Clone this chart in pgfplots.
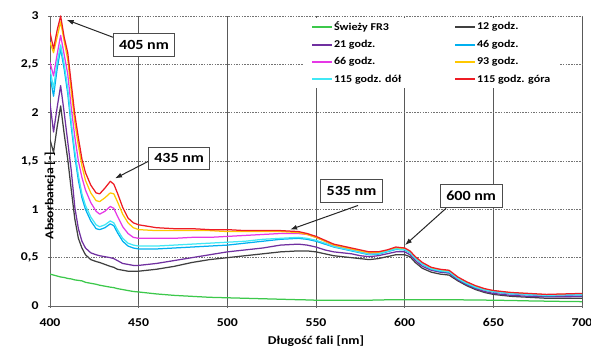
\documentclass[border=0pt]{standalone}
\usepackage{pgfplots}
\pgfplotsset{compat=1.18}
\usepackage{pgfplotstable}
\usepackage{fontspec}
\setmainfont{Carlito}[FakeStretch=1.15]
\usetikzlibrary{arrows.meta}
\definecolor{cfr}{HTML}{3CC84B}
\definecolor{c12}{HTML}{404040}
\definecolor{c21}{HTML}{7030A0}
\definecolor{c46}{HTML}{00B0F0}
\definecolor{c66}{HTML}{E638E6}
\definecolor{c93}{HTML}{FFC800}
\definecolor{cdol}{HTML}{40E8F5}
\definecolor{cgora}{HTML}{EE1C24}
\pgfplotstableread{
lam fr3 h12 h21 h46 h66 h93 dol gora
400 0.33 1.72 2.10 2.38 2.52 2.73 2.45 2.83
402 0.32 1.59 1.80 2.17 2.38 2.62 2.25 2.66
404 0.31 1.85 2.05 2.45 2.60 2.78 2.52 2.85
406 0.30 2.07 2.28 2.66 2.80 2.94 2.70 3.00
408 0.295 1.78 2.00 2.45 2.60 2.74 2.50 2.78
410 0.285 1.52 1.70 2.20 2.40 2.55 2.25 2.62
412 0.28 1.20 1.40 1.85 2.05 2.22 1.90 2.30
414 0.27 0.90 1.02 1.55 1.75 1.90 1.60 1.98
416 0.265 0.70 0.80 1.30 1.50 1.66 1.35 1.74
418 0.26 0.60 0.67 1.12 1.33 1.45 1.16 1.52
420 0.245 0.53 0.60 1.00 1.20 1.30 1.04 1.38
423 0.235 0.48 0.55 0.88 1.07 1.17 0.92 1.25
426 0.225 0.46 0.53 0.80 0.98 1.09 0.84 1.17
428 0.215 0.45 0.52 0.79 0.95 1.08 0.82 1.16
431 0.205 0.43 0.51 0.81 0.98 1.12 0.84 1.22
434 0.195 0.41 0.50 0.85 1.03 1.17 0.88 1.29
436 0.19 0.40 0.49 0.83 1.01 1.16 0.86 1.26
438 0.18 0.38 0.47 0.76 0.93 1.08 0.79 1.17
441 0.17 0.37 0.44 0.67 0.82 0.95 0.70 1.02
444 0.16 0.36 0.43 0.62 0.75 0.86 0.65 0.91
447 0.15 0.36 0.42 0.60 0.71 0.81 0.63 0.86
450 0.145 0.36 0.42 0.59 0.70 0.79 0.62 0.84
460 0.125 0.38 0.44 0.59 0.70 0.78 0.62 0.81
470 0.11 0.41 0.47 0.60 0.70 0.78 0.63 0.80
480 0.10 0.45 0.50 0.61 0.71 0.78 0.64 0.80
490 0.09 0.48 0.53 0.62 0.71 0.78 0.65 0.79
500 0.085 0.50 0.56 0.63 0.72 0.77 0.66 0.79
510 0.08 0.52 0.58 0.65 0.73 0.77 0.67 0.78
520 0.075 0.54 0.60 0.67 0.74 0.77 0.69 0.78
530 0.07 0.56 0.63 0.69 0.75 0.77 0.70 0.78
540 0.065 0.57 0.64 0.70 0.75 0.76 0.71 0.77
545 0.063 0.57 0.63 0.69 0.74 0.74 0.70 0.75
550 0.06 0.56 0.61 0.67 0.71 0.71 0.68 0.72
555 0.06 0.54 0.58 0.64 0.67 0.67 0.65 0.68
560 0.06 0.52 0.56 0.61 0.62 0.63 0.615 0.64
565 0.06 0.51 0.55 0.59 0.60 0.61 0.595 0.62
570 0.06 0.50 0.54 0.57 0.58 0.59 0.575 0.60
575 0.06 0.49 0.52 0.55 0.56 0.57 0.555 0.58
580 0.06 0.48 0.51 0.53 0.54 0.55 0.535 0.56
585 0.062 0.49 0.52 0.535 0.545 0.55 0.54 0.56
590 0.064 0.51 0.54 0.56 0.57 0.57 0.565 0.58
595 0.065 0.53 0.56 0.585 0.595 0.60 0.59 0.61
600 0.065 0.53 0.56 0.58 0.59 0.59 0.585 0.60
603 0.065 0.51 0.53 0.55 0.56 0.56 0.555 0.57
606 0.065 0.45 0.47 0.49 0.50 0.50 0.495 0.51
610 0.065 0.39 0.41 0.43 0.44 0.44 0.435 0.45
615 0.065 0.35 0.37 0.38 0.39 0.39 0.385 0.40
620 0.065 0.33 0.35 0.36 0.37 0.37 0.365 0.38
625 0.065 0.32 0.34 0.35 0.36 0.36 0.355 0.37
630 0.064 0.26 0.27 0.28 0.29 0.29 0.285 0.30
635 0.063 0.21 0.22 0.23 0.24 0.24 0.235 0.25
640 0.062 0.17 0.18 0.19 0.20 0.20 0.195 0.21
645 0.061 0.14 0.15 0.165 0.17 0.17 0.168 0.18
650 0.06 0.12 0.13 0.145 0.15 0.155 0.15 0.16
660 0.057 0.10 0.11 0.125 0.13 0.135 0.13 0.14
670 0.053 0.09 0.10 0.115 0.12 0.125 0.12 0.13
680 0.05 0.08 0.095 0.105 0.11 0.115 0.11 0.12
690 0.047 0.08 0.095 0.11 0.115 0.12 0.115 0.125
700 0.045 0.08 0.10 0.115 0.12 0.125 0.12 0.13
}\spectra
\begin{document}
\begin{tikzpicture}
\useasboundingbox (-50bp,-41bp) rectangle (541bp,306bp);
\begin{axis}[
  width=532bp, height=290bp, scale only axis,
  xmin=400, xmax=700, ymin=0, ymax=3,
  xtick={400,450,...,700}, ytick={0,0.5,...,3},
  axis lines=left, axis line style={-, draw=black!60, line width=0.9bp},
  tick align=center, major tick length=4bp,
  tick style={draw=black!60, line width=0.8bp},
  xmajorgrids, ymajorgrids,
  x grid style={draw=black!65, line width=0.8bp},
  y grid style={draw=black!55, line width=0.8bp, dash pattern=on 1.5bp off 1.2bp},
  /pgf/number format/assume math mode=true,
  /pgf/number format/use comma,
  ticklabel style={font=\bfseries\fontsize{12}{14}\selectfont},
  xticklabel style={yshift=-7bp},
  yticklabel style={xshift=-6bp},
  xlabel={Długość fali [nm]},
  ylabel={Absorbancja [-]},
  xlabel style={font=\bfseries\fontsize{12}{14}\selectfont, at={(axis description cs:0.5,0)}, anchor=north, yshift=-29.5bp, inner sep=0pt},
  ylabel style={font=\bfseries\fontsize{12}{14}\selectfont, at={(axis description cs:0,0.517)}, anchor=center, xshift=-39.5bp, inner sep=0pt},
  legend columns=2,
  legend cell align=left,
  legend style={at={(rel axis cs:0.4756,0.994)}, anchor=north west, draw=none, fill=white,
    font=\bfseries\fontsize{10.5}{12}\selectfont, inner xsep=8bp, inner ysep=3bp,
    row sep=6.3bp,
    nodes={inner xsep=1bp, inner ysep=1bp},
    /tikz/column 2/.style={column sep=52bp}},
  legend image code/.code={\draw[#1, line width=1.8bp, line cap=butt] (0bp,0bp) -- (20bp,0bp);},
  every axis plot/.append style={line width=1.25bp, line join=round},
]
\addplot[cfr] table[x=lam, y=fr3] {\spectra};
\addlegendentry{Świeży FR3}
\addplot[c12] table[x=lam, y=h12] {\spectra};
\addlegendentry{12 godz.}
\addplot[c21] table[x=lam, y=h21] {\spectra};
\addlegendentry{21 godz.}
\addplot[c46] table[x=lam, y=h46] {\spectra};
\addlegendentry{46 godz.}
\addplot[c66] table[x=lam, y=h66] {\spectra};
\addlegendentry{66 godz.}
\addplot[c93] table[x=lam, y=h93] {\spectra};
\addlegendentry{93 godz.}
\addplot[cdol] table[x=lam, y=dol] {\spectra};
\addlegendentry{115 godz. dół}
\addplot[cgora] table[x=lam, y=gora] {\spectra};
\addlegendentry{115 godz. góra}
\tikzset{ann/.style={draw=black!70, line width=0.9bp, fill=white, font=\bfseries\fontsize{14}{16}\selectfont, inner xsep=6bp, inner ysep=6.5bp},
  annarr/.style={-{Latex[length=7bp,width=5bp]}, draw=black!85, line width=1bp}}
\draw[annarr] (axis cs:435.5,2.78) -- (axis cs:409.4,2.96);
\node[ann] at (axis cs:453,2.70) {405 nm};
\draw[annarr] (axis cs:455.3,1.495) -- (axis cs:436.7,1.32);
\node[ann] at (axis cs:472.8,1.53) {435 nm};
\draw[annarr] (axis cs:573.7,1.04) -- (axis cs:535.4,0.79);
\node[ann] at (axis cs:570,1.19) {535 nm};
\draw[annarr] (axis cs:623.3,1.01) -- (axis cs:600.2,0.63);
\node[ann] at (axis cs:637.5,1.14) {600 nm};
\end{axis}
\end{tikzpicture}
\end{document}
